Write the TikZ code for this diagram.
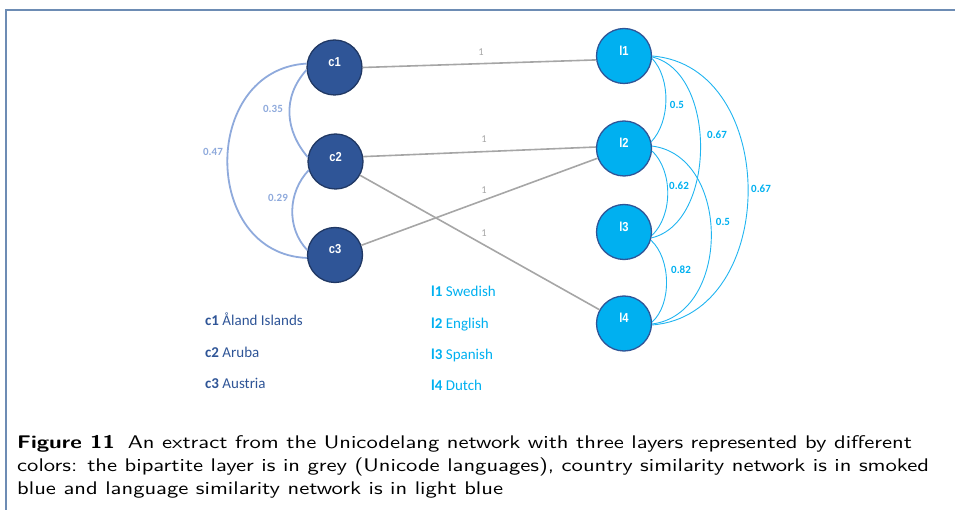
\documentclass[tikz,border=0pt]{standalone}
\usepackage{fontspec}
\newfontfamily\calibri{Carlito}
\newfontfamily\nodefont[FakeStretch=0.86]{Liberation Sans}
\newfontfamily\capfont[Extension=.otf, UprightFont=*-regular, BoldFont=*-bold, FakeStretch=1.235]{lmsans10}
\definecolor{smoked}{HTML}{2F5597}
\definecolor{smokedline}{HTML}{203864}
\definecolor{lightb}{HTML}{00B0F0}
\definecolor{arcleft}{HTML}{8FAADC}
\definecolor{arcright}{HTML}{20B4F0}
\definecolor{bip}{HTML}{A6A6A6}
\definecolor{framec}{HTML}{6D8CB4}
\begin{document}
\begin{tikzpicture}[x=1pt,y=-1pt,
  cnode/.style={circle, draw=smokedline, fill=smoked, line width=1.3pt, minimum size=55pt, inner sep=0pt},
  lnode/.style={circle, draw=smoked, fill=lightb, line width=1.3pt, minimum size=55pt, inner sep=0pt},
  ntext/.style={text=white, font=\nodefont\bfseries\fontsize{13}{13}\selectfont, inner sep=0pt},
  bipedge/.style={draw=bip, line width=1.6pt},
  biplabel/.style={text=bip, font=\calibri\fontsize{10.5}{10.5}\selectfont, inner sep=0pt},
  cedge/.style={draw=arcleft, line width=1.8pt},
  clabel/.style={text=arcleft, font=\calibri\bfseries\fontsize{11}{11}\selectfont, inner sep=0pt},
  ledge/.style={draw=arcright, line width=0.9pt},
  llabel/.style={text=lightb, font=\calibri\bfseries\fontsize{11}{11}\selectfont, inner sep=0pt},
  legc/.style={text=smoked, font=\calibri\fontsize{15}{15}\selectfont, anchor=base west, inner sep=0pt},
  legl/.style={text=lightb, font=\calibri\fontsize{15}{15}\selectfont, anchor=base west, inner sep=0pt},
  capline/.style={font=\capfont\fontsize{18.3}{23}\selectfont, anchor=base west, inner sep=0pt}
]
\useasboundingbox (0,0) rectangle (955,510);

% figure frame (top and left rules)
\draw[framec, line width=1.6pt] (6,510) -- (6,10) -- (955,10);

% country layer
\node[cnode] (c1) at (334.5,67.5) {};
\node[cnode] (c2) at (335.5,161.5) {};
\node[cnode] (c3) at (335,255) {};
\node[ntext] (c1t) at (334.5,62) {c1};
\node[ntext] (c2t) at (335.5,157) {c2};
\node[ntext] (c3t) at (335,249) {c3};

% language layer
\node[lnode] (l1) at (624,56) {};
\node[lnode] (l2) at (624,148.5) {};
\node[lnode] (l3) at (624,232) {};
\node[lnode] (l4) at (624,323.5) {};
\node[ntext] (l1t) at (624,51) {l1};
\node[ntext] (l2t) at (624,143) {l2};
\node[ntext] (l3t) at (624,227) {l3};
\node[ntext] (l4t) at (624,318) {l4};

% bipartite layer
\draw[bipedge] (c1.east) -- (l1.188);
\draw[bipedge] (c2.10) -- (l2.177);
\draw[bipedge] (c3) -- (l2);
\draw[bipedge] (c2) -- (l4);
\node[biplabel] (w11) at (481,52) {1};
\node[biplabel] (w22) at (484,139) {1};
\node[biplabel] (w32) at (484,190) {1};
\node[biplabel] (w24) at (484,233) {1};

% country similarity
\draw[cedge] (c1.172) .. controls +(-106,6) and +(-106,-4) .. (c3.186);
\draw[cedge] (c1.185) .. controls +(-25,28) and +(-22,-26) .. (c2.171);
\draw[cedge] (c2.198) .. controls +(-21,22) and +(-21,-22) .. (c3.170);
\node[clabel] (s12) at (273,109) {0.35};
\node[clabel] (s13) at (213,152) {0.47};
\node[clabel] (s23) at (278,198) {0.29};

% language similarity
\draw[ledge] (l1.355) .. controls +(19,20) and +(19,-20) .. (l2.14);
\draw[ledge] (l1.358) .. controls +(65,15) and +(65,-15) .. (l3.348);
\draw[ledge] (l1.0) .. controls +(128,10) and +(128,-10) .. (l4.357);
\draw[ledge] (l2.355) .. controls +(21,20) and +(21,-20) .. (l3.353);
\draw[ledge] (l2.5) .. controls +(79,10) and +(79,-10) .. (l4.359);
\draw[ledge] (l3.343) .. controls +(20,18) and +(20,-18) .. (l4.3);
\node[llabel] (m12) at (677,105) {0.5};
\node[llabel] (m13) at (717,135) {0.67};
\node[llabel] (m23) at (679,186) {0.62};
\node[llabel] (m14) at (761,189) {0.67};
\node[llabel] (m24) at (723,222) {0.5};
\node[llabel] (m34) at (681,270) {0.82};

% legend
\node[legc] (k1) at (205,326) {\bfseries c1\mdseries\ Åland Islands};
\node[legc] (k2) at (205,357) {\bfseries c2\mdseries\ Aruba};
\node[legc] (k3) at (205,388) {\bfseries c3\mdseries\ Austria};
\node[legl] (g1) at (431,297) {\bfseries l1\mdseries\ Swedish};
\node[legl] (g2) at (431,328) {\bfseries l2\mdseries\ English};
\node[legl] (g3) at (431,359) {\bfseries l3\mdseries\ Spanish};
\node[legl] (g4) at (431,390) {\bfseries l4\mdseries\ Dutch};

% caption
\node[capline] (cap1) at (17,448) {\textbf{Figure 11}\hskip0.7em An extract from the Unicodelang network with three layers represented by different};
\node[capline] (cap2) at (17,471) {colors: the bipartite layer is in grey (Unicode languages), country similarity network is in smoked};
\node[capline] (cap3) at (17,494) {blue and language similarity network is in light blue};
\end{tikzpicture}
\end{document}
